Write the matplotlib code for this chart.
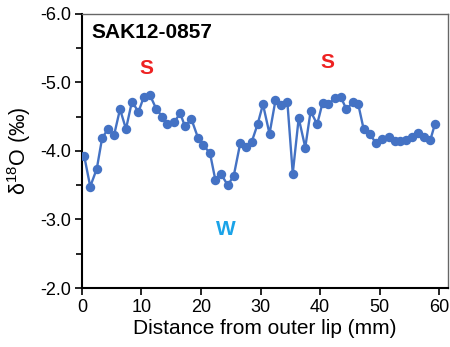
import matplotlib
matplotlib.use("Agg")
import matplotlib.pyplot as plt
from matplotlib.ticker import MultipleLocator

plt.rcParams['font.family'] = ['Liberation Sans', 'DejaVu Sans']
plt.rcParams['mathtext.fontset'] = 'custom'
plt.rcParams['mathtext.rm'] = 'Liberation Sans'
plt.rcParams['mathtext.it'] = 'Liberation Sans:italic'

distance_mm = [0.4, 1.4, 2.5, 3.4, 4.4, 5.4, 6.4, 7.4, 8.4, 9.5, 10.4, 11.4, 12.5, 13.5,
               14.3, 15.5, 16.5, 17.3, 18.4, 19.5, 20.4, 21.5, 22.4, 23.3, 24.5, 25.5,
               26.6, 27.5, 28.5, 29.5, 30.4, 31.5, 32.5, 33.4, 34.5, 35.4, 36.4, 37.5,
               38.4, 39.5, 40.4, 41.3, 42.5, 43.5, 44.4, 45.5, 46.4, 47.3, 48.4, 49.4,
               50.4, 51.5, 52.6, 53.4, 54.4, 55.4, 56.4, 57.4, 58.5, 59.3]
d18O = [-3.92, -3.48, -3.74, -4.19, -4.32, -4.23, -4.61, -4.32, -4.72, -4.57, -4.79,
        -4.82, -4.61, -4.50, -4.39, -4.42, -4.55, -4.36, -4.46, -4.19, -4.08, -3.97,
        -3.58, -3.67, -3.50, -3.64, -4.12, -4.06, -4.13, -4.39, -4.68, -4.25, -4.74,
        -4.67, -4.71, -3.67, -4.48, -4.05, -4.58, -4.39, -4.70, -4.68, -4.77, -4.78,
        -4.61, -4.71, -4.68, -4.32, -4.24, -4.11, -4.18, -4.20, -4.14, -4.14, -4.16,
        -4.21, -4.26, -4.21, -4.16, -4.40]
x_ticks = [0, 10, 20, 30, 40, 50, 60]
y_ticks = [-6.0, -5.0, -4.0, -3.0, -2.0]

fig = plt.figure(figsize=(4.5, 3.47), dpi=100)
ax = fig.add_axes([0.182, 0.170, 0.814, 0.790])

ax.plot(distance_mm, d18O, color='#4472C4', lw=1.7, marker='o', ms=6.8,
        markeredgewidth=0, zorder=3)

ax.set_xlim(0, 61.5)
ax.set_ylim(-2.0, -6.0)
ax.set_xticks(x_ticks)
ax.set_xticklabels([str(t) for t in x_ticks])
ax.set_yticks(y_ticks)
ax.set_yticklabels([f"{t:.1f}" for t in y_ticks])
ax.yaxis.set_minor_locator(MultipleLocator(0.5))

ax.tick_params(axis='both', which='major', direction='out', length=5, width=1.2,
               labelsize=13, pad=3, color='black')
ax.tick_params(axis='y', which='minor', direction='out', length=4, width=1.2)
for s in ['left', 'bottom']:
    ax.spines[s].set_linewidth(1.5)
    ax.spines[s].set_color('black')
for s in ['top', 'right']:
    ax.spines[s].set_linewidth(1.0)
    ax.spines[s].set_color('#666666')

ax.set_xlabel('Distance from outer lip (mm)', fontsize=15, labelpad=2)
ax.set_ylabel(r'δ$^{18}$O (‰)', fontsize=15.5, labelpad=5)

ax.text(0.027, 0.967, 'SAK12-0857', transform=ax.transAxes, fontsize=15,
        fontweight='bold', ha='left', va='top')
ax.text(10.9, -5.2, 'S', color='#EE2222', fontsize=15, fontweight='bold',
        ha='center', va='center')
ax.text(41.2, -5.29, 'S', color='#EE2222', fontsize=15, fontweight='bold',
        ha='center', va='center')
ax.text(24.2, -2.86, 'W', color='#1AA3E8', fontsize=15, fontweight='bold',
        ha='center', va='center')

fig.savefig('out.png', dpi=100)
